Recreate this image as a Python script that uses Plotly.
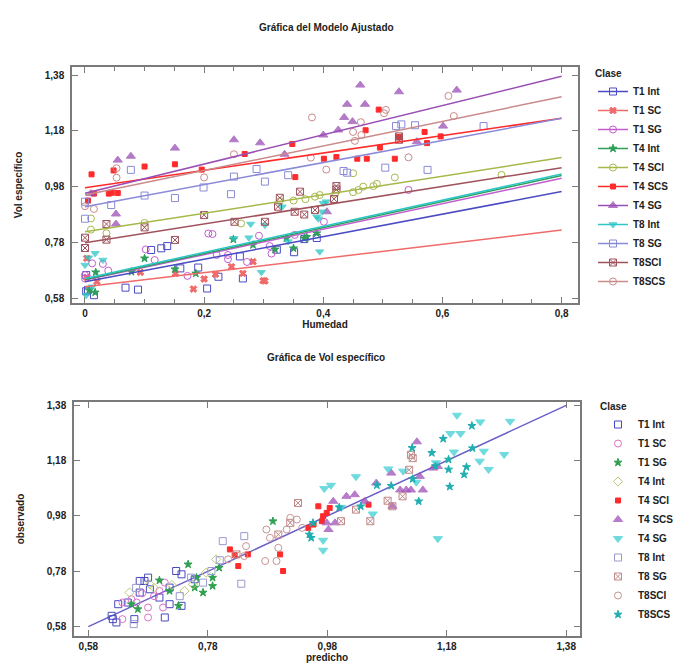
import plotly.graph_objects as go

# ---------------- classes ----------------
classes = ["T1 Int", "T1 SC", "T1 SG", "T4 Int", "T4 SCI", "T4 SCS",
           "T4 SG", "T8 Int", "T8 SG", "T8SCI", "T8SCS"]

# ---------------- top panel: Vol especifico vs Humedad ----------------
t1int_hum = [0.002, 0.002, 0.005, 0.015, 0.068, 0.089, 0.111, 0.128, 0.138, 0.16, 0.19, 0.205, 0.224, 0.26, 0.265, 0.322, 0.351, 0.368, 0.389]
t1int_vol = [0.663, 0.605, 0.61, 0.591, 0.618, 0.611, 0.753, 0.759, 0.767, 0.687, 0.69, 0.615, 0.657, 0.73, 0.651, 0.754, 0.745, 0.792, 0.796]

t1sc_hum = [0.003, 0.003, 0.02, 0.093, 0.152, 0.182, 0.2, 0.219, 0.246, 0.265, 0.282, 0.299, 0.302]
t1sc_vol = [0.723, 0.655, 0.64, 0.673, 0.669, 0.613, 0.649, 0.666, 0.693, 0.669, 0.711, 0.643, 0.642]

t1sg_hum = [0.0, 0.0, 0.012, 0.03, 0.039, 0.102, 0.117, 0.172, 0.207, 0.214, 0.221, 0.24, 0.24, 0.272, 0.292, 0.31, 0.313, 0.352, 0.401, 0.543]
t1sg_vol = [0.651, 0.663, 0.705, 0.703, 0.679, 0.755, 0.717, 0.66, 0.812, 0.81, 0.735, 0.72, 0.735, 0.71, 0.804, 0.767, 0.74, 0.807, 0.854, 0.968]

t4int_hum = [0.007, 0.017, 0.018, 0.078, 0.1, 0.151, 0.186, 0.249, 0.282, 0.319, 0.338, 0.35, 0.368, 0.372, 0.389]
t4int_vol = [0.609, 0.601, 0.673, 0.675, 0.723, 0.684, 0.669, 0.791, 0.771, 0.755, 0.795, 0.759, 0.795, 0.8, 0.813]

t4sci_hum = [0.01, 0.01, 0.036, 0.1, 0.262, 0.327, 0.35, 0.37, 0.386, 0.394, 0.42, 0.45, 0.459, 0.467, 0.484, 0.49, 0.45, 0.52, 0.699]
t4sci_vol = [0.866, 0.826, 0.813, 0.85, 0.848, 0.928, 0.93, 0.935, 0.944, 0.95, 0.955, 0.96, 0.968, 0.98, 0.982, 0.99, 1.028, 1.013, 1.022]

t4scs_hum = [0.005, 0.011, 0.015, 0.04, 0.045, 0.048, 0.055, 0.1, 0.151, 0.196, 0.268, 0.348, 0.353, 0.401, 0.422, 0.457, 0.471, 0.473, 0.493, 0.495, 0.52, 0.527, 0.57, 0.574, 0.597]
t4scs_vol = [0.93, 1.024, 0.955, 0.955, 0.958, 1.038, 0.957, 1.052, 1.06, 1.041, 1.097, 1.133, 1.014, 1.08, 1.086, 1.08, 1.182, 1.08, 1.256, 1.12, 1.08, 1.158, 1.176, 1.136, 1.16]

t4sg_hum = [0.01, 0.052, 0.052, 0.055, 0.077, 0.151, 0.25, 0.294, 0.335, 0.40, 0.425, 0.435, 0.44, 0.449, 0.462, 0.47, 0.527, 0.557, 0.601, 0.624, 0.406]
t4sg_vol = [0.955, 0.882, 0.846, 1.075, 1.089, 1.118, 1.148, 1.137, 1.096, 1.165, 1.183, 1.228, 1.275, 1.213, 1.344, 1.275, 1.32, 1.141, 1.197, 1.326, 0.89]

t8int_hum = [0.0, 0.002, 0.006, 0.012, 0.017, 0.03, 0.25, 0.275, 0.278, 0.296, 0.302, 0.331, 0.341, 0.389, 0.392, 0.394, 0.398, 0.4, 0.405]
t8int_vol = [0.699, 0.591, 0.725, 0.621, 0.741, 0.717, 0.795, 0.797, 0.846, 0.673, 0.842, 0.908, 0.783, 0.872, 0.865, 0.747, 0.89, 0.92, 0.926]

t8sg_hum = [0.0, 0.0, 0.044, 0.077, 0.1, 0.151, 0.199, 0.245, 0.25, 0.288, 0.302, 0.341, 0.434, 0.44, 0.504, 0.522, 0.531, 0.554, 0.575, 0.669]
t8sg_vol = [0.926, 0.865, 0.914, 1.04, 0.948, 0.939, 0.977, 0.953, 1.016, 1.043, 0.998, 1.021, 1.036, 1.03, 1.048, 1.197, 1.203, 1.2, 1.04, 1.197]

t8sci_hum = [0.0, 0.0, 0.036, 0.036, 0.1, 0.151, 0.2, 0.251, 0.302, 0.324, 0.327, 0.352, 0.361, 0.368, 0.386, 0.418, 0.422, 0.422, 0.527, 0.527]
t8sci_vol = [0.797, 0.76, 0.846, 0.79, 0.834, 0.789, 0.878, 0.854, 0.854, 0.908, 0.94, 0.89, 0.962, 0.88, 0.896, 0.936, 0.982, 0.97, 1.16, 1.148]

t8scs_hum = [0.0, 0.015, 0.053, 0.053, 0.2, 0.25, 0.379, 0.381, 0.405, 0.45, 0.453, 0.463, 0.464, 0.502, 0.505, 0.543, 0.61, 0.619]
t8scs_vol = [0.91, 0.9, 1.046, 1.012, 1.013, 1.096, 1.084, 1.228, 1.041, 1.176, 1.144, 1.211, 1.165, 1.243, 1.255, 1.085, 1.305, 1.233]

# fitted model (per class): intercept and slope, drawn over Humedad 0 .. 0.8
fit_intercept = [0.639, 0.621, 0.645, 0.647, 0.818, 0.976, 0.956, 0.651, 0.908, 0.779, 0.950]
fit_slope = [0.404, 0.254, 0.456, 0.466, 0.3325, 0.311, 0.524, 0.4675, 0.396, 0.336, 0.44]
fit_x_range = [0.0, 0.8]

# ---------------- bottom panel: observado vs predicho ----------------
b_t1int_pred = [0.619, 0.621, 0.627, 0.63, 0.646, 0.657, 0.666, 0.666, 0.674, 0.68, 0.683, 0.699, 0.708, 0.716, 0.716, 0.727, 0.736, 0.736, 0.758]
b_t1int_obs = [0.619, 0.607, 0.595, 0.661, 0.667, 0.607, 0.703, 0.745, 0.745, 0.757, 0.715, 0.685, 0.613, 0.661, 0.721, 0.781, 0.769, 0.655, 0.751]

b_t1sc_pred = [0.637, 0.637, 0.652, 0.661, 0.68, 0.68, 0.699, 0.708, 0.705, 0.67, 0.69]
b_t1sc_obs = [0.667, 0.607, 0.679, 0.667, 0.649, 0.613, 0.709, 0.739, 0.649, 0.7, 0.69]

b_t1sg_pred = [0.652, 0.663, 0.699, 0.716, 0.747, 0.761, 0.772, 0.788, 0.788, 0.758, 0.731, 0.799, 0.889]
b_t1sg_obs = [0.661, 0.643, 0.747, 0.709, 0.805, 0.757, 0.703, 0.757, 0.727, 0.721, 0.655, 0.793, 0.961]

b_t4int_pred = [0.649, 0.683, 0.741, 0.755, 0.777, 0.794, 0.72, 0.69]
b_t4int_obs = [0.703, 0.733, 0.709, 0.733, 0.775, 0.823, 0.73, 0.72]

b_t4sci_pred = [0.817, 0.825, 0.831, 0.847, 0.901, 0.906, 0.948, 0.957, 0.965, 0.973, 0.979, 0.984, 0.971, 1.049]
b_t4sci_obs = [0.859, 0.838, 0.799, 0.841, 0.841, 0.781, 0.937, 0.949, 1.015, 0.979, 0.991, 1.009, 0.961, 1.021]

b_t4scs_pred = [1.13, 1.087, 1.102, 1.112, 1.12, 1.14, 1.089, 1.135, 1.012, 1.026, 0.99, 0.979, 0.993, 0.982, 1.043, 1.062, 1.157, 1.165]
b_t4scs_obs = [1.248, 1.135, 1.074, 1.074, 1.074, 1.074, 1.015, 1.123, 1.051, 1.057, 1.033, 0.955, 0.955, 0.931, 1.033, 1.099, 1.153, 1.159]

b_t4sg_pred = [1.197, 1.236, 1.286, 1.186, 1.203, 1.192, 1.242, 1.276, 1.235, 1.25, 1.107, 1.082, 1.028, 0.986, 0.975, 1.056, 1.165, 0.973, 0.973, 1.162, 1.129, 1.003]
b_t4sg_obs = [1.344, 1.32, 1.322, 1.278, 1.278, 1.211, 1.214, 1.202, 1.178, 1.148, 1.142, 1.15, 1.122, 1.091, 1.079, 0.987, 0.898, 0.892, 0.856, 1.172, 1.102, 1.011]

b_t8int_pred = [0.656, 0.733, 0.772, 0.786, 0.805, 0.836, 0.841, 0.8, 0.752, 0.66]
b_t8int_obs = [0.589, 0.69, 0.739, 0.781, 0.889, 0.735, 0.907, 0.82, 0.757, 0.72]

b_t8sg_pred = [0.931, 0.898, 0.828, 0.918, 1.12, 1.123, 1.117, 1.106, 1.081, 1.089, 1.028, 1.052, 1.003]
b_t8sg_obs = [1.027, 0.913, 0.841, 0.955, 1.201, 1.189, 1.147, 1.051, 1.035, 1.015, 1.003, 0.961, 0.961]

b_t8sci_pred = [0.878, 0.884, 0.876, 0.895, 0.898, 0.912, 0.918, 0.929, 0.938, 0.814, 0.841, 0.844]
b_t8sci_obs = [0.931, 0.901, 0.817, 0.817, 0.865, 0.931, 0.973, 0.967, 0.937, 0.823, 0.835, 0.871]

b_t8scs_pred = [1.174, 1.183, 1.185, 1.222, 1.223, 1.213, 1.209, 1.183, 1.155, 1.122, 1.123, 1.133, 1.063, 1.036, 1.0, 1.087, 1.161, 0.95, 0.953, 0.956]
b_t8scs_obs = [1.259, 1.148, 1.086, 1.306, 1.225, 1.157, 1.13, 1.184, 1.208, 1.226, 1.114, 1.033, 1.091, 1.015, 1.011, 1.089, 1.16, 0.913, 0.901, 0.955]

diag_range = [0.58, 1.38]
tick_vals_58 = [0.58, 0.78, 0.98, 1.18, 1.38]

# ---------------- styles ----------------
top_colors = ["#4b4bc3", "#f06a6a", "#c25ccf", "#2f9e5a", "#a6b84a", "#ff2a2a",
              "#9a4fb5", "#2cc6c6", "#8a8ad8", "#a0525c", "#c98a8a"]
top_symbols = ["square-open", "x", "circle-open", "star", "circle-open", "square",
               "triangle-up", "triangle-down", "square-open", "square-x-open", "circle-open"]
top_sizes = [7, 6, 7, 6, 7, 5, 8, 7, 7, 7, 7]

bot_colors = ["#4848c0", "#e070c8", "#2fa050", "#bcc87e", "#ff2a2a", "#a050b8",
              "#3fd0d4", "#9a9ad0", "#c28a8a", "#c89494", "#20aeb0"]
bot_symbols = ["square-open", "circle-open", "star", "diamond-open", "square", "triangle-up",
               "triangle-down", "square-open", "square-x-open", "circle-open", "star"]
bot_sizes = [7, 7, 6, 7, 5, 8, 8, 7, 7, 7, 6]

top_data = [(t1int_hum, t1int_vol), (t1sc_hum, t1sc_vol), (t1sg_hum, t1sg_vol),
            (t4int_hum, t4int_vol), (t4sci_hum, t4sci_vol), (t4scs_hum, t4scs_vol),
            (t4sg_hum, t4sg_vol), (t8int_hum, t8int_vol), (t8sg_hum, t8sg_vol),
            (t8sci_hum, t8sci_vol), (t8scs_hum, t8scs_vol)]
bot_data = [(b_t1int_pred, b_t1int_obs), (b_t1sc_pred, b_t1sc_obs), (b_t1sg_pred, b_t1sg_obs),
            (b_t4int_pred, b_t4int_obs), (b_t4sci_pred, b_t4sci_obs), (b_t4scs_pred, b_t4scs_obs),
            (b_t4sg_pred, b_t4sg_obs), (b_t8int_pred, b_t8int_obs), (b_t8sg_pred, b_t8sg_obs),
            (b_t8sci_pred, b_t8sci_obs), (b_t8scs_pred, b_t8scs_obs)]


def gapped(vals):
    out = []
    for v in vals:
        out += [v, None]
    return out


def marker(sym, col, size):
    m = dict(symbol=sym, size=size, color=col, line=dict(color=col, width=1))
    if sym in ("triangle-up", "triangle-down"):
        m["opacity"] = 0.75
    return m


fig = go.Figure()

# top panel: points (with a legend entry showing line + marker)
for i, name in enumerate(classes):
    hx, vy = top_data[i]
    fig.add_trace(go.Scatter(
        x=gapped(hx), y=gapped(vy), mode="lines+markers", name=name,
        line=dict(color=top_colors[i], width=1.5), connectgaps=False,
        marker=marker(top_symbols[i], top_colors[i], top_sizes[i]),
        xaxis="x", yaxis="y", legend="legend", legendgroup=name))

# top panel: fitted lines
for i, name in enumerate(classes):
    xs = fit_x_range
    ys = [fit_intercept[i] + fit_slope[i] * x for x in xs]
    fig.add_trace(go.Scatter(
        x=xs, y=ys, mode="lines", line=dict(color=top_colors[i], width=1.5),
        showlegend=False, hoverinfo="skip", xaxis="x", yaxis="y", legendgroup=name))

# bottom panel: diagonal line
fig.add_trace(go.Scatter(x=diag_range, y=diag_range, mode="lines",
                         line=dict(color="#6a5fc8", width=1.5), showlegend=False,
                         xaxis="x2", yaxis="y2", hoverinfo="skip"))

for i, name in enumerate(classes):
    px_, oy = bot_data[i]
    fig.add_trace(go.Scatter(
        x=px_, y=oy, mode="markers", name=name,
        marker=marker(bot_symbols[i], bot_colors[i], bot_sizes[i]),
        xaxis="x2", yaxis="y2", legend="legend2"))

FONT = "Liberation Sans, Arial, sans-serif"
W, H = 673, 663
ML, MR, MT, MB = 72, 93, 67, 27
PW = W - ML - MR
PH = H - MT - MB

axis_common = dict(
    showline=True, linecolor="#7a7a7a", linewidth=1.5, mirror="ticks",
    ticks="inside", ticklen=6, tickwidth=1.2, tickcolor="#7a7a7a",
    showgrid=False, zeroline=False,
    tickfont=dict(family=FONT, size=10, color="#222222", weight="bold"),
)

fig.update_layout(
    width=W, height=H,
    margin=dict(l=ML, r=MR, t=MT, b=MB, autoexpand=False),
    paper_bgcolor="white", plot_bgcolor="white",
    separators=",.",
    font=dict(family=FONT, size=10, color="#222222"),
    xaxis=dict(domain=[0, 506 / PW], range=[-0.0218, 0.8275], tick0=0, dtick=0.2,
               minor=dict(dtick=0.05, ticks="inside", ticklen=4, tickcolor="#7a7a7a"),
               title=dict(text="Humedad", font=dict(family=FONT, size=10, weight="bold"), standoff=0),
               anchor="y", **axis_common),
    yaxis=dict(domain=[(H - MB - 303) / PH, 1], range=[0.563, 1.4087],
               tickvals=tick_vals_58, tickformat=".2f", ticklabelstandoff=4,
               title=dict(text="Vol específico", font=dict(family=FONT, size=10, weight="bold"), standoff=20),
               anchor="x", **axis_common),
    xaxis2=dict(domain=[2 / PW, 1], range=[0.556, 1.403], tickvals=tick_vals_58, tickformat=".2f",
                title=dict(text="predicho", font=dict(family=FONT, size=10, weight="bold"), standoff=5),
                anchor="y2", **axis_common),
    yaxis2=dict(domain=[0, (H - MB - 402) / PH], range=[0.546, 1.392],
                tickvals=tick_vals_58, tickformat=".2f", ticklabelstandoff=4,
                title=dict(text="observado", font=dict(family=FONT, size=10, weight="bold"), standoff=20),
                anchor="x2", **axis_common),
    legend=dict(xref="container", yref="container", x=593 / W, y=1 - 64 / H,
                xanchor="left", yanchor="top", bgcolor="rgba(0,0,0,0)",
                title=dict(text="Clase", font=dict(family=FONT, size=10, weight="bold")),
                font=dict(family=FONT, size=10, color="#222222", weight="bold"),
                tracegroupgap=0),
    legend2=dict(xref="container", yref="container", x=598 / W, y=1 - 397 / H,
                 xanchor="left", yanchor="top", bgcolor="rgba(0,0,0,0)",
                 title=dict(text="Clase", font=dict(family=FONT, size=10, weight="bold")),
                 font=dict(family=FONT, size=10, color="#222222", weight="bold"),
                 tracegroupgap=0),
    annotations=[
        dict(text="<b>Gráfica del Modelo Ajustado</b>", xref="paper", yref="paper",
             x=0.5, y=(H - MB - 28) / PH, xanchor="center", yanchor="middle", showarrow=False,
             font=dict(family=FONT, size=10, color="#222222")),
        dict(text="<b>Gráfica de Vol específico</b>", xref="paper", yref="paper",
             x=0.5, y=(H - MB - 357) / PH, xanchor="center", yanchor="middle", showarrow=False,
             font=dict(family=FONT, size=10, color="#222222")),
    ],
)

fig.write_html("out.html")
